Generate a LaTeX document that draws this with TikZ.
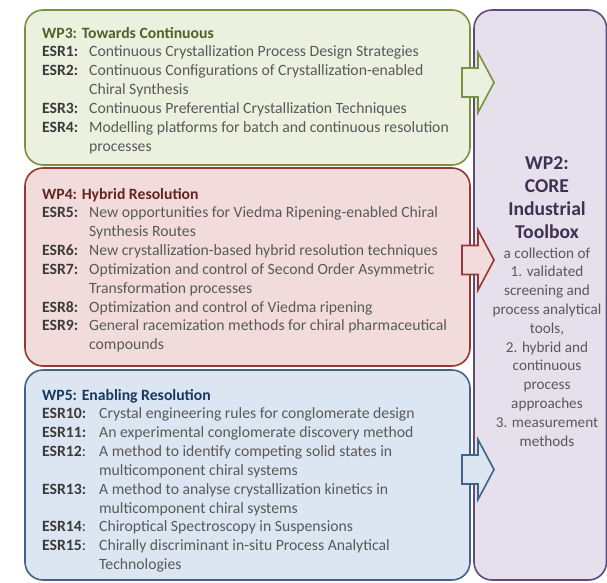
\documentclass[tikz,border=0pt]{standalone}
\usepackage{fontspec}
\setmainfont{Carlito}
\usepackage{array}
\usepackage{xcolor}
\usepackage{tikz}
\definecolor{wpgreen}      {RGB}{119,147, 60}
\definecolor{wpgreenfill}  {RGB}{235,241,222}
\definecolor{wpgreendark}  {RGB}{ 79, 98, 40}
\definecolor{wpred}        {RGB}{149, 55, 53}
\definecolor{wpredfill}    {RGB}{242,220,219}
\definecolor{wpreddark}    {RGB}{ 99, 37, 35}
\definecolor{wpblue}       {RGB}{ 65, 98,138}
\definecolor{wpbluefill}   {RGB}{220,230,242}
\definecolor{wpbluedark}   {RGB}{ 23, 55, 94}
\definecolor{wppurple}     {RGB}{ 96, 74,123}
\definecolor{wppurplefill} {RGB}{229,224,236}
\definecolor{wppurpledark} {RGB}{ 63, 49, 81}
\definecolor{esrgray}      {RGB}{ 58, 58, 58}
\definecolor{descgray}     {RGB}{ 89, 89, 89}

\tikzset{
  wpbox/.style={rounded corners=18pt, line width=1.6pt},
  wparrow/.style={line width=1.6pt, line join=miter},
  listtext/.style={inner sep=0pt, anchor=base west, font=\fontsize{15.7}{18.85}\selectfont},
  coretext/.style={inner sep=0pt, anchor=base, text=descgray}
}

\begin{document}
\begin{tikzpicture}[x=1pt,y=-1pt]
  \useasboundingbox (0,0) rectangle (607,582);

  % work package boxes
  \draw[wpbox, wppurple, fill=wppurplefill] (474,10) rectangle (606.5,580);
  \draw[wpbox, wpgreen,  fill=wpgreenfill]  (25,10)  rectangle (470,165);
  \draw[wpbox, wpred,    fill=wpredfill]    (25,168) rectangle (470,366);
  \draw[wpbox, wpblue,   fill=wpbluefill]   (25,370) rectangle (470,580);

  % block arrows into WP2
  \foreach \c/\fc/\dc in {82.5/wpgreenfill/wpgreen, 260/wpredfill/wpred, 469.5/wpbluefill/wpblue}
    \draw[wparrow, \dc, fill=\fc] (462,\c-14.5) -- (478,\c-14.5) -- (478,\c-30) -- (494,\c)
      -- (478,\c+30) -- (478,\c+14.5) -- (462,\c+14.5) -- cycle;

  \node[listtext] (wpthreetext) at (42,38) {%
    \begin{tabular}[t]{@{}>{\color{esrgray}\bfseries}w{l}{47pt}@{}>{\color{descgray}}l@{}}
      \multicolumn{2}{@{}l@{}}{\color{wpgreendark}\bfseries WP3: Towards Continuous}\\
      ESR1: & Continuous Crystallization Process Design Strategies\\
      ESR2: & Continuous Configurations of Crystallization-enabled\\
            & Chiral Synthesis\\
      ESR3: & Continuous Preferential Crystallization Techniques\\
      ESR4: & Modelling platforms for batch and continuous resolution\\
            & processes
    \end{tabular}};

  \node[listtext] (wpfourtext) at (42,199) {%
    \begin{tabular}[t]{@{}>{\color{esrgray}\bfseries}w{l}{47pt}@{}>{\color{descgray}}l@{}}
      \multicolumn{2}{@{}l@{}}{\color{wpreddark}\bfseries WP4: Hybrid Resolution}\\
      ESR5: & New opportunities for Viedma Ripening-enabled Chiral\\
            & Synthesis Routes\\
      ESR6: & New crystallization-based hybrid resolution techniques\\
      ESR7: & Optimization and control of Second Order Asymmetric\\
            & Transformation processes\\
      ESR8: & Optimization and control of Viedma ripening\\
      ESR9: & General racemization methods for chiral pharmaceutical\\
            & compounds
    \end{tabular}};

  \node[listtext] (wpfivetext) at (42,400) {%
    \begin{tabular}[t]{@{}>{\color{esrgray}\bfseries}w{l}{57pt}@{}>{\color{descgray}}l@{}}
      \multicolumn{2}{@{}l@{}}{\color{wpbluedark}\bfseries WP5: Enabling Resolution}\\
      ESR10: & Crystal engineering rules for conglomerate design\\
      ESR11: & An experimental conglomerate discovery method\\
      ESR12\textmd{:} & A method to identify competing solid states in\\
             & multicomponent chiral systems\\
      ESR13: & A method to analyse crystallization kinetics in\\
             & multicomponent chiral systems\\
      ESR14\textmd{:} & Chiroptical Spectroscopy in Suspensions\\
      ESR15\textmd{:} & Chirally discriminant in-situ Process Analytical\\
             & Technologies
    \end{tabular}};

  % WP2 toolbox
  \node[coretext, text=wppurpledark, font=\fontsize{19.6}{23}\selectfont\bfseries] (wptwotitle) at (547,169) {%
    \begin{tabular}[t]{@{}c@{}}
      WP2:\\ CORE\\ Industrial\\ Toolbox
    \end{tabular}};
  \node[coretext, font=\fontsize{15.2}{18.8}\selectfont] (wptwotext) at (547,258) {%
    \begin{tabular}[t]{@{}c@{}}
      a collection of\\ 1. validated\\ screening and\\ process analytical\\ tools,\\
      2. hybrid and\\ continuous\\ process\\ approaches\\ 3. measurement\\ methods
    \end{tabular}};
\end{tikzpicture}
\end{document}
